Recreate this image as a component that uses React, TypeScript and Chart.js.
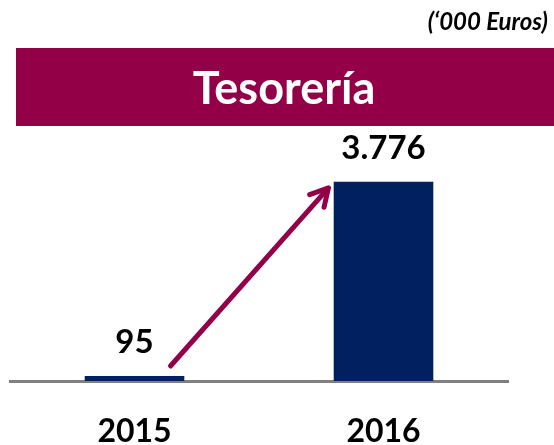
import React, { useEffect, useRef } from "react";
import { Chart, registerables } from "chart.js";

Chart.register(...registerables);

const categories = ["2015", "2016"];
const values = [95, 3776];
const valueLabels = ["95", "3.776"];
const titleText = "Tesorería";
const unitText = "(‘000 Euros)";

const MAROON = "#930048";
const NAVY = "#002060";
const GRAY = "#808080";
const FONT = "Lato, 'Open Sans', sans-serif";

const decorPlugin = {
  id: "decor",
  beforeDraw(chart: any) {
    const ctx = chart.ctx;
    ctx.save();
    // banner
    ctx.fillStyle = MAROON;
    ctx.fillRect(16, 48, chart.width - 16, 78);
    ctx.fillStyle = "#ffffff";
    ctx.font = `bold 45px ${FONT}`;
    ctx.textAlign = "center";
    ctx.textBaseline = "alphabetic";
    ctx.fillText(titleText, 284, 104);
    // unit
    ctx.fillStyle = "#000000";
    ctx.font = `italic bold 24px ${FONT}`;
    ctx.textAlign = "right";
    ctx.fillText(unitText, 548, 30);
    ctx.restore();
  },
  afterDatasetsDraw(chart: any) {
    const ctx = chart.ctx;
    const xs = chart.scales.x;
    const ys = chart.scales.y;
    ctx.save();
    // value labels
    ctx.fillStyle = "#000000";
    ctx.font = `bold 33px ${FONT}`;
    ctx.textAlign = "center";
    ctx.textBaseline = "alphabetic";
    values.forEach((v, i) => {
      ctx.fillText(valueLabels[i], xs.getPixelForValue(i), ys.getPixelForValue(v) - 23);
    });
    // arrow
    const x0 = xs.getPixelForValue(0) + 36;
    const y0 = ys.getPixelForValue(values[0]) - 10;
    const x1 = xs.getPixelForValue(1) - 55;
    const y1 = ys.getPixelForValue(values[1]) + 6;
    const ang = Math.atan2(y1 - y0, x1 - x0);
    const head = 20;
    ctx.strokeStyle = MAROON;
    ctx.lineWidth = 5;
    ctx.lineCap = "round";
    ctx.lineJoin = "round";
    ctx.beginPath();
    ctx.moveTo(x0, y0);
    ctx.lineTo(x1 - Math.cos(ang) * 4, y1 - Math.sin(ang) * 4);
    ctx.stroke();
    ctx.beginPath();
    ctx.moveTo(x1 - head * Math.cos(ang - 0.5), y1 - head * Math.sin(ang - 0.5));
    ctx.lineTo(x1, y1);
    ctx.lineTo(x1 - head * Math.cos(ang + 0.5), y1 - head * Math.sin(ang + 0.5));
    ctx.stroke();
    ctx.restore();
  },
};

export default function App() {
  const ref = useRef<HTMLCanvasElement | null>(null);
  useEffect(() => {
    if (!ref.current) return;
    const chart = new Chart(ref.current, {
      type: "bar",
      data: {
        labels: categories,
        datasets: [
          {
            data: values,
            backgroundColor: NAVY,
            categoryPercentage: 1,
            barPercentage: 0.4,
          },
        ],
      },
      options: {
        animation: false,
        responsive: false,
        layout: { padding: { top: 170, left: 10, right: 46, bottom: 0 } },
        plugins: { legend: { display: false }, tooltip: { enabled: false }, title: { display: false } },
        scales: {
          x: {
            grid: { display: true, drawOnChartArea: false, drawTicks: false },
            border: { display: true, color: GRAY, width: 3 },
            ticks: { color: "#000000", padding: 31, font: { family: FONT, size: 32, weight: "bold" } },
            afterFit: (scale: any) => {
              scale.height = 64;
            },
          },
          y: { display: false, min: 0, max: 4000 },
        },
      },
      plugins: [decorPlugin],
    });
    return () => chart.destroy();
  }, []);
  return (
    <div style={{ position: "fixed", left: 0, top: 0, width: 554, height: 445, background: "#fff" }}>
      <canvas ref={ref} width={554} height={445} style={{ width: 554, height: 445 }} />
    </div>
  );
}
